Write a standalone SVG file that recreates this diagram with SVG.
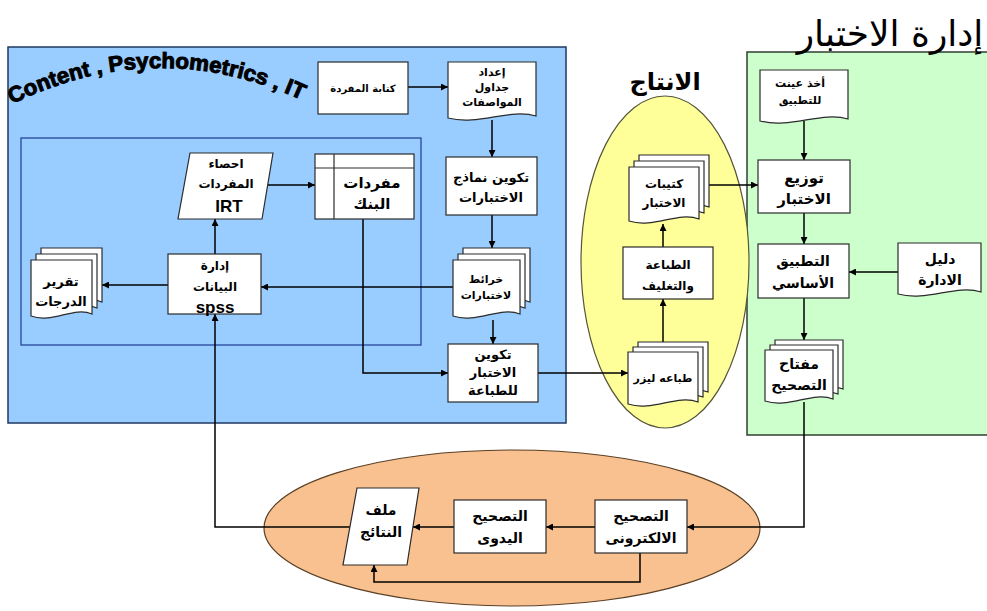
<svg xmlns="http://www.w3.org/2000/svg" width="987" height="611" viewBox="0 0 987 611">
<style>
.box{fill:#fff;stroke:#2b2b2b;stroke-width:1.2}
.t{font-family:"DejaVu Sans","Liberation Sans",sans-serif;font-weight:bold;text-anchor:middle;fill:#000}
.c{fill:none;stroke:#000;stroke-width:1.5}
.ca{fill:none;stroke:#000;stroke-width:1.5;marker-end:url(#ah)}
</style>
<defs>
<marker id="ah" viewBox="0 0 10 10" refX="10" refY="5" markerWidth="7" markerHeight="7" markerUnits="userSpaceOnUse" orient="auto">
<path d="M0,0L10,5L0,10Z" fill="#000"/>
</marker>
<path id="arc" d="M12,104 Q160,32 310,104"/>
</defs>

<!-- panels -->
<g id="panels">
<rect x="8" y="47" width="558" height="376" fill="#99CCFF" stroke="#1F3A60" stroke-width="1.5"/>
<rect x="21" y="138" width="400" height="207" fill="none" stroke="#1F3A93" stroke-width="1.2"/>
<rect x="747" y="52" width="250" height="383" fill="#CCFFCC" stroke="#2f3f2f" stroke-width="1.5"/>
<ellipse cx="665" cy="262" rx="84" ry="166" fill="#FFFF99" stroke="#55553a" stroke-width="1.2"/>
<ellipse cx="512" cy="528" rx="248" ry="78" fill="#F9C18F" stroke="#5a3f25" stroke-width="1.2"/>
<text font-family="'Liberation Sans',Arial,sans-serif" font-weight="900" font-size="22" fill="#000" stroke="#000" stroke-width="1"><textPath href="#arc" textLength="300" lengthAdjust="spacingAndGlyphs">Content , Psychometrics , IT</textPath></text>
<text x="665" y="90" class="t" font-size="24">الانتاج</text>
<text x="890" y="46" font-family="'DejaVu Sans',sans-serif" font-size="36" text-anchor="middle" fill="#000">إدارة الاختبار</text>
</g>

<!-- connectors -->
<g id="connectors">
<line class="ca" x1="408" y1="87" x2="448" y2="87"/>
<line class="ca" x1="492" y1="120" x2="492" y2="157"/>
<line class="ca" x1="492" y1="215" x2="492" y2="248"/>
<line class="ca" x1="493" y1="320" x2="493" y2="344"/>
<line class="ca" x1="453" y1="287" x2="261" y2="287"/>
<polyline class="ca" points="363,219 363,373 448,373"/>
<line class="ca" x1="268" y1="185" x2="315" y2="185"/>
<line class="ca" x1="215" y1="254" x2="215" y2="219"/>
<line class="ca" x1="168" y1="285" x2="102" y2="285"/>
<line class="ca" x1="538" y1="373" x2="628" y2="373"/>
<line class="ca" x1="663" y1="342" x2="663" y2="299"/>
<line class="ca" x1="663" y1="247" x2="663" y2="224"/>
<line class="ca" x1="707" y1="185" x2="758" y2="185"/>
<line class="ca" x1="804" y1="121" x2="804" y2="160"/>
<line class="ca" x1="804" y1="213" x2="804" y2="244"/>
<line class="ca" x1="898" y1="272" x2="849" y2="272"/>
<line class="ca" x1="804" y1="298" x2="804" y2="340"/>
<polyline class="ca" points="804,402 804,527 687,527"/>
<line class="ca" x1="595" y1="527" x2="546" y2="527"/>
<line class="ca" x1="454" y1="527" x2="413" y2="527"/>
<polyline class="ca" points="640,553 640,582 374,582 374,565"/>
<polyline class="ca" points="350,527 215,527 215,314"/>
</g>

<g id="n-ketaba"><rect class="box" x="318" y="62" width="90" height="52"/><text class="t" x="363" y="92" font-size="10">كتابة المفردة</text></g>

<g id="n-eedad"><path class="box" d="M448,62H536V116C509.6,108 478.8,126 448,118Z"/>
<text class="t" x="492" y="76" font-size="11">إعداد</text><text class="t" x="492" y="91" font-size="11">جداول</text><text class="t" x="492" y="106" font-size="11">المواصفات</text></g>

<g id="n-takween-namazej"><rect class="box" x="446" y="157" width="91" height="58"/>
<text class="t" x="491" y="182" font-size="13">تكوين نماذج</text><text class="t" x="491" y="202" font-size="13">الاختبارات</text></g>

<g id="n-khara2et"><path class="box" d="M463,248H530V302C509.9,294 486.5,312 463,304Z"/><path class="box" d="M458,254H525V308C504.9,300 481.5,318 458,310Z"/><path class="box" d="M453,260H520V314C499.9,306 476.5,324 453,316Z"/>
<text class="t" x="486" y="283" font-size="11">خرائط</text><text class="t" x="486" y="299" font-size="11">لاختبارات</text></g>

<g id="n-takween-tiba3a"><rect class="box" x="448" y="344" width="90" height="58"/>
<text class="t" x="493" y="359" font-size="13">تكوين</text><text class="t" x="493" y="377" font-size="13">الاختبار</text><text class="t" x="493" y="395" font-size="13">للطباعة</text></g>

<g id="n-bank"><rect class="box" x="315" y="154" width="99" height="65"/><line x1="315" y1="168" x2="414" y2="168" stroke="#2b2b2b" stroke-width="1.2"/><line x1="334" y1="154" x2="334" y2="219" stroke="#2b2b2b" stroke-width="1.2"/>
<text class="t" x="372" y="188" font-size="15">مفردات</text><text class="t" x="372" y="209" font-size="15">البنك</text></g>

<g id="n-irt"><polygon class="box" points="190,153 273,153 262,219 178,219"/>
<text class="t" x="226" y="168" font-size="12">احصاء</text><text class="t" x="226" y="188" font-size="12">المفردات</text><text x="229" y="212" font-family="'Liberation Sans',Arial,sans-serif" font-weight="bold" font-size="17" text-anchor="middle">IRT</text></g>

<g id="n-spss"><rect class="box" x="168" y="254" width="93" height="60"/>
<text class="t" x="215" y="270" font-size="12">إدارة</text><text class="t" x="215" y="291" font-size="12">البيانات</text><text x="215" y="313" font-family="'Liberation Sans',Arial,sans-serif" font-weight="bold" font-size="17" text-anchor="middle">spss</text></g>

<g id="n-taqreer"><path class="box" d="M41,248H102V302C83.7,294 62.4,312 41,304Z"/><path class="box" d="M36,254H97V308C78.7,300 57.4,318 36,310Z"/><path class="box" d="M31,260H92V314C73.7,306 52.4,324 31,316Z"/>
<text class="t" x="61" y="286" font-size="13">تقرير</text><text class="t" x="61" y="306" font-size="13">الدرجات</text></g>

<g id="n-kotayebat"><path class="box" d="M639,155H709V207C688,199 663.5,217 639,209Z"/><path class="box" d="M634,161H704V213C683,205 658.5,223 634,215Z"/><path class="box" d="M629,167H699V219C678,211 653.5,229 629,221Z"/>
<text class="t" x="664" y="188" font-size="12">كتيبات</text><text class="t" x="664" y="207" font-size="12">الاختبار</text></g>

<g id="n-tiba3a-taghleef"><rect class="box" x="623" y="247" width="90" height="52"/>
<text class="t" x="668" y="269" font-size="12">الطباعة</text><text class="t" x="668" y="290" font-size="12">والتغليف</text></g>

<g id="n-laser"><path class="box" d="M638,342H708V392C687,384 662.5,402 638,394Z"/><path class="box" d="M633,347H703V397C682,389 657.5,407 633,399Z"/><path class="box" d="M628,352H698V402C677,394 652.5,412 628,404Z"/>
<text class="t" x="663" y="382" font-size="11">طباعه ليزر</text></g>

<g id="n-3ayena"><path class="box" d="M760,70H848V119C821.6,111 790.8,129 760,121Z"/>
<text class="t" x="800" y="87" font-size="11">أخذ عينت</text><text class="t" x="800" y="104" font-size="11">للتطبيق</text></g>

<g id="n-tawzee3"><rect class="box" x="758" y="160" width="92" height="53"/>
<text class="t" x="804" y="183" font-size="15">توزيع</text><text class="t" x="804" y="204" font-size="15">الاختبار</text></g>

<g id="n-tatbeeq"><rect class="box" x="758" y="244" width="91" height="54"/>
<text class="t" x="803" y="266" font-size="14">التطبيق</text><text class="t" x="803" y="288" font-size="14">الأساسي</text></g>

<g id="n-daleel"><path class="box" d="M898,243H981V292C956.1,284 927.05,302 898,294Z"/>
<text class="t" x="940" y="264" font-size="14">دليل</text><text class="t" x="940" y="285" font-size="14">الادارة</text></g>

<g id="n-moftah"><path class="box" d="M775,340H843V389C822.6,381 798.8,399 775,391Z"/><path class="box" d="M770,345H838V394C817.6,386 793.8,404 770,396Z"/><path class="box" d="M765,350H833V399C812.6,391 788.8,409 765,401Z"/>
<text class="t" x="799" y="369" font-size="14">مفتاح</text><text class="t" x="799" y="390" font-size="14">التصحيح</text></g>

<g id="n-malaf"><polygon class="box" points="357,488 419,488 407,565 343,565"/>
<text class="t" x="381" y="515" font-size="14">ملف</text><text class="t" x="381" y="537" font-size="14">النتائج</text></g>

<g id="n-yadawi"><rect class="box" x="454" y="500" width="92" height="53"/>
<text class="t" x="500" y="521" font-size="14">التصحيح</text><text class="t" x="500" y="543" font-size="14">اليدوى</text></g>

<g id="n-electroni"><rect class="box" x="595" y="500" width="92" height="53"/>
<text class="t" x="641" y="521" font-size="14">التصحيح</text><text class="t" x="641" y="543" font-size="14">الالكترونى</text></g>
</svg>
